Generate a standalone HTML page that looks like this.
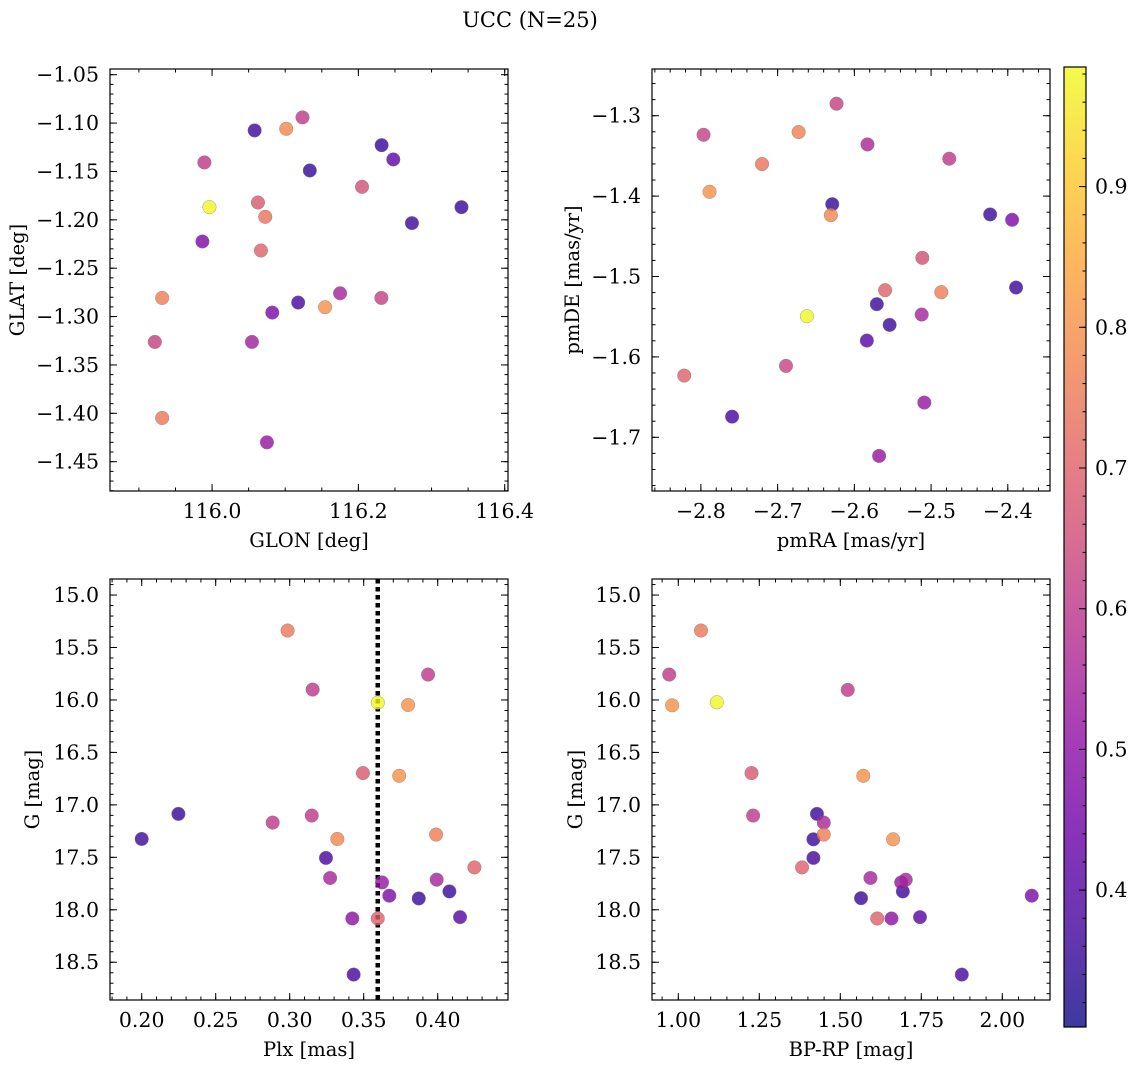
<!DOCTYPE html>
<html><head><meta charset="utf-8">
<style>
html,body{margin:0;padding:0;background:#fff;}
svg{display:block;font-family:"DejaVu Serif","Liberation Serif",serif;}
</style></head>
<body>
<svg id="fig" width="1136" height="1067" viewBox="0 0 1136 1067" xmlns="http://www.w3.org/2000/svg">
<defs>
<linearGradient id="plasmaGrad" x1="0" y1="1" x2="0" y2="0"></linearGradient>
</defs>
<text x="530" y="27" font-size="21" text-anchor="middle" fill="#000">UCC (N=25)</text>
</svg>
<script>
// ---- Data ----
const glon = [116.0582,116.1014,116.1236,116.2318,116.2477,115.9895,116.1336,116.205,116.3409,116.2732,115.9964,116.0627,116.0727,115.9868,116.0668,115.9318,116.2314,116.175,116.1177,116.1545,116.0823,115.9218,116.0545,115.9318,116.075];
const glat = [-1.1076,-1.1059,-1.0941,-1.1228,-1.1376,-1.1407,-1.149,-1.1659,-1.1869,-1.2034,-1.1869,-1.1821,-1.1969,-1.2224,-1.2317,-1.2807,-1.2807,-1.2759,-1.2855,-1.2903,-1.2959,-1.3262,-1.3262,-1.4048,-1.43];
const probTL = [0.36,0.78,0.6,0.35,0.42,0.6,0.35,0.66,0.35,0.36,0.98,0.68,0.74,0.47,0.7,0.76,0.62,0.55,0.38,0.8,0.47,0.62,0.54,0.75,0.52];

const pmra = [-2.6232,-2.7965,-2.6726,-2.7203,-2.5829,-2.4763,-2.7887,-2.6288,-2.6306,-2.423,-2.3944,-2.5114,-2.3892,-2.5599,-2.4867,-2.6618,-2.5707,-2.554,-2.5122,-2.5837,-2.6891,-2.8217,-2.5088,-2.7593,-2.5677];
const pmde = [-1.2851,-1.3237,-1.3203,-1.3602,-1.3357,-1.3535,-1.3946,-1.41,-1.4237,-1.4228,-1.4295,-1.4768,-1.5137,-1.517,-1.5195,-1.5494,-1.5344,-1.5602,-1.5473,-1.5797,-1.6112,-1.6232,-1.6568,-1.6743,-1.7232];
const probTR = [0.62,0.62,0.77,0.74,0.56,0.6,0.8,0.35,0.78,0.36,0.47,0.66,0.36,0.7,0.76,0.98,0.36,0.36,0.55,0.4,0.63,0.7,0.52,0.38,0.52];

const plx = [0.2986,0.3935,0.3155,0.3595,0.380,0.3495,0.374,0.2248,0.3149,0.2885,0.2,0.3322,0.3989,0.3245,0.4248,0.3273,0.3624,0.3993,0.4079,0.3673,0.3872,0.3423,0.3595,0.4151,0.3432];
const gmagBL = [15.338,15.758,15.901,16.025,16.048,16.697,16.723,17.086,17.102,17.169,17.325,17.325,17.283,17.506,17.596,17.697,17.739,17.713,17.825,17.866,17.892,18.083,18.083,18.07,18.618];
const probBL = [0.75,0.6,0.6,0.98,0.8,0.68,0.8,0.35,0.6,0.6,0.36,0.78,0.76,0.38,0.7,0.55,0.52,0.55,0.36,0.47,0.36,0.5,0.7,0.4,0.38];
const plxLine = [0.3595];

const bprp = [1.070,0.972,0.981,1.119,1.523,1.226,1.571,1.231,1.428,1.449,1.449,1.417,1.663,1.417,1.382,1.593,1.688,1.702,1.693,1.564,2.091,1.614,1.658,1.746,1.875];
const gmagBR = [15.338,15.758,16.051,16.022,15.904,16.697,16.723,17.102,17.086,17.169,17.283,17.328,17.328,17.506,17.596,17.697,17.739,17.713,17.825,17.889,17.866,18.083,18.083,18.07,18.618];
const probBR = [0.75,0.6,0.8,0.98,0.6,0.68,0.8,0.6,0.36,0.56,0.76,0.36,0.8,0.38,0.7,0.55,0.52,0.55,0.36,0.36,0.47,0.7,0.5,0.4,0.38];

const ticksGLON = [116.0,116.2,116.4];
const ticksGLAT = [-1.05,-1.10,-1.15,-1.20,-1.25,-1.30,-1.35,-1.40,-1.45];
const ticksPMRA = [-2.8,-2.7,-2.6,-2.5,-2.4];
const ticksPMDE = [-1.3,-1.4,-1.5,-1.6,-1.7];
const ticksPLX = [0.20,0.25,0.30,0.35,0.40];
const ticksG = [15.0,15.5,16.0,16.5,17.0,17.5,18.0,18.5];
const ticksBPRP = [1.00,1.25,1.50,1.75,2.00];
const ticksCbar = [0.4,0.5,0.6,0.7,0.8,0.9];

const CMIN = 0.3027, CMAX = 0.985;
const FS = 20.5;
// ---- plasma ----
const plasmaStops = ["#0d0887","#41049d","#6a00a8","#8f0da4","#b12a90","#cc4778","#e16462","#f2844b","#fca636","#fcce25","#f0f921"];
function hex(h){return [parseInt(h.substr(1,2),16),parseInt(h.substr(3,2),16),parseInt(h.substr(5,2),16)];}
function plasma(t){
  t=Math.max(0,Math.min(1,t));
  const f=t*10, i=Math.min(9,Math.floor(f)), u=f-i;
  const a=hex(plasmaStops[i]), b=hex(plasmaStops[i+1]);
  return "rgb("+a.map((v,k)=>Math.round(v+(b[k]-v)*u)).join(",")+")";
}
function cnorm(c){return (c-CMIN)/(CMAX-CMIN);}
const NS="http://www.w3.org/2000/svg";
const svg=document.getElementById('fig');
function mk(tag,attrs,parent){const e=document.createElementNS(NS,tag);for(const k in attrs)e.setAttribute(k,attrs[k]);(parent||svg).appendChild(e);return e;}
function fmt(v,d){return (v<0?"\u2212":"")+Math.abs(v).toFixed(d);}

function panel(cfg){
  const g=mk('g',{});
  
  
  const sx=v=>cfg.x0+(v-cfg.xd[0])/(cfg.xd[1]-cfg.xd[0])*(cfg.x1-cfg.x0);
  const sy=v=>cfg.y0+(v-cfg.yd[0])/(cfg.yd[1]-cfg.yd[0])*(cfg.y1-cfg.y0);
  if(cfg.vline){
    cfg.vline.forEach(v=>{
      const l=mk('line',{x1:sx(v),x2:sx(v),y1:cfg.y0,y2:cfg.y1,stroke:"#000","stroke-width":4.5,"stroke-dasharray":"4.5,3.5"},g);
      
      
    });
  }
  const order=cfg.c.map((c,i)=>i).sort((a,b)=>cfg.c[a]-cfg.c[b]);
  order.forEach(i=>{
    const p=mk('circle',{cx:sx(cfg.xs[i]),cy:sy(cfg.ys[i]),r:6.8,fill:plasma(cnorm(cfg.c[i])),"fill-opacity":0.8,stroke:"#777","stroke-width":0.5,"stroke-opacity":0.7},g);
    
    
  });
  const fr=mk('rect',{x:cfg.x0,y:cfg.y0,width:cfg.x1-cfg.x0,height:cfg.y1-cfg.y0,fill:"none",stroke:"#000","stroke-width":1.2},g);
  
  
  const tk=(x1,y1,x2,y2)=>mk('line',{x1,y1,x2,y2,stroke:"#000","stroke-width":1},g);
  const xmin=Math.min(...cfg.xd), xmax=Math.max(...cfg.xd), ymin=Math.min(...cfg.yd), ymax=Math.max(...cfg.yd);
  for(let k=Math.ceil(xmin/cfg.xm-1e-9);k<=Math.floor(xmax/cfg.xm+1e-9);k++){const x=sx(k*cfg.xm);tk(x,cfg.y1,x,cfg.y1-3.5);tk(x,cfg.y0,x,cfg.y0+3.5);}
  for(let k=Math.ceil(ymin/cfg.ym-1e-9);k<=Math.floor(ymax/cfg.ym+1e-9);k++){const y=sy(k*cfg.ym);tk(cfg.x0,y,cfg.x0+3.5,y);tk(cfg.x1,y,cfg.x1-3.5,y);}
  cfg.xt.forEach(v=>{const x=sx(v);tk(x,cfg.y1,x,cfg.y1-7);tk(x,cfg.y0,x,cfg.y0+7);
    const t=mk('text',{x:x,y:cfg.y1+27,"font-size":FS,"text-anchor":"middle"},g);t.textContent=fmt(v,cfg.xdec);
    
    });
  cfg.yt.forEach(v=>{const y=sy(v);tk(cfg.x0,y,cfg.x0+7,y);tk(cfg.x1,y,cfg.x1-7,y);
    const t=mk('text',{x:cfg.x0-11,y:y+7,"font-size":FS,"text-anchor":"end"},g);t.textContent=fmt(v,cfg.ydec);
    
    });
  const xl=mk('text',{x:(cfg.x0+cfg.x1)/2,y:cfg.y1+56,"font-size":19.5,"text-anchor":"middle"},g);xl.textContent=cfg.xlab;
  
  
  const cy=(cfg.y0+cfg.y1)/2;
  const yl=mk('text',{x:cfg.ylx,y:cy,"font-size":19.5,"text-anchor":"middle",transform:"rotate(-90 "+cfg.ylx+" "+cy+")"},g);yl.textContent=cfg.ylab;
  
  
}

panel({name:'glon-glat-panel',x0:110,x1:508,y0:69,y1:491,xd:[115.8605,116.4045],yd:[-1.0441,-1.4803],xs:glon,ys:glat,c:probTL,xt:ticksGLON,yt:ticksGLAT,xm:0.05,ym:0.01,xdec:1,ydec:2,xlab:"GLON [deg]",ylab:"GLAT [deg]",ylx:24});
panel({name:'pm-panel',x0:652,x1:1050,y0:69,y1:491,xd:[-2.8637,-2.345],yd:[-1.2419,-1.7668],xs:pmra,ys:pmde,c:probTR,xt:ticksPMRA,yt:ticksPMDE,xm:0.02,ym:0.02,xdec:1,ydec:1,xlab:"pmRA [mas/yr]",ylab:"pmDE [mas/yr]",ylx:579});
panel({name:'plx-g-panel',x0:110,x1:508,y0:579,y1:1000,xd:[0.2+(110-141.7)/1480,0.2+(508-141.7)/1480],yd:[14.847,18.86],xs:plx,ys:gmagBL,c:probBL,xt:ticksPLX,yt:ticksG,xm:0.01,ym:0.1,xdec:2,ydec:1,xlab:"Plx [mas]",ylab:"G [mag]",ylx:39,vline:plxLine});
panel({name:'cmd-panel',x0:652,x1:1050,y0:579,y1:1000,xd:[1+(652-678.3)/324,1+(1050-678.3)/324],yd:[14.847,18.86],xs:bprp,ys:gmagBR,c:probBR,xt:ticksBPRP,yt:ticksG,xm:0.05,ym:0.1,xdec:2,ydec:1,xlab:"BP-RP [mag]",ylab:"G [mag]",ylx:582});

// colorbar
const grad=document.getElementById('plasmaGrad');
for(let i=0;i<=20;i++){const v=CMIN+(CMAX-CMIN)*i/20;mk('stop',{offset:(i/20),"stop-color":plasma(cnorm(v)),"stop-opacity":0.8},grad);}
const cb={x0:1064,x1:1086,y0:67,y1:1027};
const cby=v=>cb.y1-(v-CMIN)/(CMAX-CMIN)*(cb.y1-cb.y0);
const cbg=mk('g',{});


mk('rect',{x:cb.x0,y:cb.y0,width:cb.x1-cb.x0,height:cb.y1-cb.y0,fill:"url(#plasmaGrad)",stroke:"#000","stroke-width":1.2},cbg);
for(let k=Math.ceil(CMIN/0.02);k<=Math.floor(CMAX/0.02);k++){const y=cby(k*0.02);mk('line',{x1:cb.x1,x2:cb.x1-3.5,y1:y,y2:y,stroke:"#000","stroke-width":1},cbg);}
ticksCbar.forEach(v=>{const y=cby(v);mk('line',{x1:cb.x1,x2:cb.x1-7,y1:y,y2:y,stroke:"#000","stroke-width":1},cbg);
  const t=mk('text',{x:cb.x1+9,y:y+7,"font-size":FS},cbg);t.textContent=v.toFixed(1);
  
  });
</script>
</body></html>
